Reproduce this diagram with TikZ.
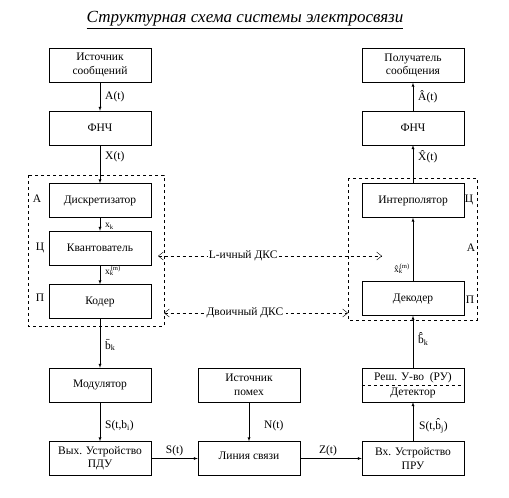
\documentclass[tikz,border=0pt]{standalone}
\usepackage{fontspec}
\setmainfont{Liberation Serif}
\usetikzlibrary{positioning, arrows.meta}

\tikzset{
  blok/.style={draw, minimum width=102pt, minimum height=34pt, align=center, inner sep=1pt},
  sig/.style={font=\fontsize{11.5}{13}\selectfont, inner sep=2pt, xshift=3pt},
  sigsm/.style={font=\fontsize{9.5}{11}\selectfont, inner sep=2pt, xshift=3pt},
  dks/.style={dashed, {Straight Barb[length=5pt, width=8pt]}-{Straight Barb[length=5pt, width=8pt]}},
}

\begin{document}
\begin{tikzpicture}[x=1pt, y=-1pt, every text node part/.style={align=center}, font=\fontsize{11.5}{13.5}\selectfont]
        \useasboundingbox (0,0) rectangle (509,498);

        \node(title) at (245,20){\fontsize{17}{20}\selectfont\underline{\textit{Структурная схема системы электросвязи}}};

        % transmitter
        \node[blok](ist) at (100,65){Источник\\сообщений};
        \node[blok](fnchA) at (100,128){ФНЧ};
        \node[blok](diskr) at (100,200.5){Дискретизатор};
        \node[blok](kvant) at (100,248){Квантователь};
        \node[blok](koder) at (100,301.5){Кодер};
        \node[blok](modul) at (100,385){Модулятор};
        \node[blok](vyh) at (100,458.5){Вых. Устройство\\ПДУ};

        % channel
        \node[blok](pomeh) at (249,385){Источник\\помех};
        \node[blok](liniya) at (249,458.5){\raisebox{5pt}{Линия связи}};

        % receiver
        \node[blok](vh) at (413,458.5){Вх. Устройство\\ПРУ};
        \node[blok](detekt) at (413,385){Реш. У-во~~(РУ)\\[2pt]Детектор};
        \node[blok](dekoder) at (413,298.5){Декодер};
        \node[blok](interp) at (413,200.5){Интерполятор};
        \node[blok](fnchB) at (413,128){ФНЧ};
        \node[blok](pol) at (413,65.5){Получатель\\сообщения};
        \draw[dashed] (detekt.west) -- (detekt.east);

        \draw[dashed] (28,175) rectangle (164,326);
        \draw[dashed] (348,178) rectangle (477,320);

        \node(lA) at (37,199){А};
        \node(lC) at (40,248){Ц};
        \node(lP) at (40,298){П};
        \node(rC) at (469,200){Ц};
        \node(rA) at (471,248){А};
        \node(rP) at (470,300){П};

        \draw[->, >=latex](ist) -- node[sig, anchor=west]{A(t)}(fnchA);
        \draw[->, >=latex](fnchA) -- node[sig, anchor=west, pos=0.3]{X(t)}(diskr);
        \draw[->, >=latex](diskr) -- node[sigsm, anchor=west, pos=0.65]{x\textsubscript{k}}(kvant);
        \draw[->, >=latex](kvant) -- node[sigsm, anchor=west, pos=0.3]{x\textsubscript{k}\kern-3pt\textsuperscript{(m)}}(koder);
        \draw[->, >=latex](koder) -- node[sig, anchor=west, yshift=-2pt]{b^^^^0304\textsubscript{k}}(modul);
        \draw[->, >=latex](modul) -- node[sig, anchor=west, pos=0.6]{S(t,b\textsubscript{i})}(vyh);
        \draw[->, >=latex](vyh) -- node[sig, anchor=south, xshift=-3pt]{S(t)}(liniya);
        \draw[->, >=latex](pomeh) -- node[sig, anchor=west, pos=0.6, xshift=10pt]{N(t)}(liniya);
        \draw[->, >=latex](liniya) -- node[sig, anchor=south, xshift=-6pt]{Z(t)}(vh);
        \draw[->, >=latex](vh) -- node[sig, anchor=west, pos=0.4, xshift=1pt]{S(t,b^^^^0302\textsubscript{j})}(detekt);
        \draw[->, >=latex](detekt) -- node[sig, anchor=west, pos=0.55]{b^^^^0304^^^^0302\textsubscript{k}}(dekoder);
        \draw[->, >=latex](dekoder) -- node[sigsm, anchor=east, pos=0.2, xshift=-4pt]{x^^^^0302\textsubscript{k}\kern-3pt\textsuperscript{(m)}}(interp);
        \draw[->, >=latex](interp) -- node[sig, anchor=west, pos=0.7]{X^^^^0302(t)}(fnchB);
        \draw[->, >=latex](fnchB) -- node[sig, anchor=west]{Â(t)}(pol);

        \coordinate(lL) at (158,256);
        \coordinate(rL) at (382,256);
        \coordinate(lD) at (164,313);
        \coordinate(rD) at (348,313);
        \draw[dks](lL) -- node[pos=0.38, fill=white, inner sep=1pt]{L-ичный ДКС}(rL);
        \draw[dks](lD) -- node[pos=0.44, fill=white, inner sep=3pt]{Двоичный ДКС}(rD);

    \end{tikzpicture}
\end{document}
